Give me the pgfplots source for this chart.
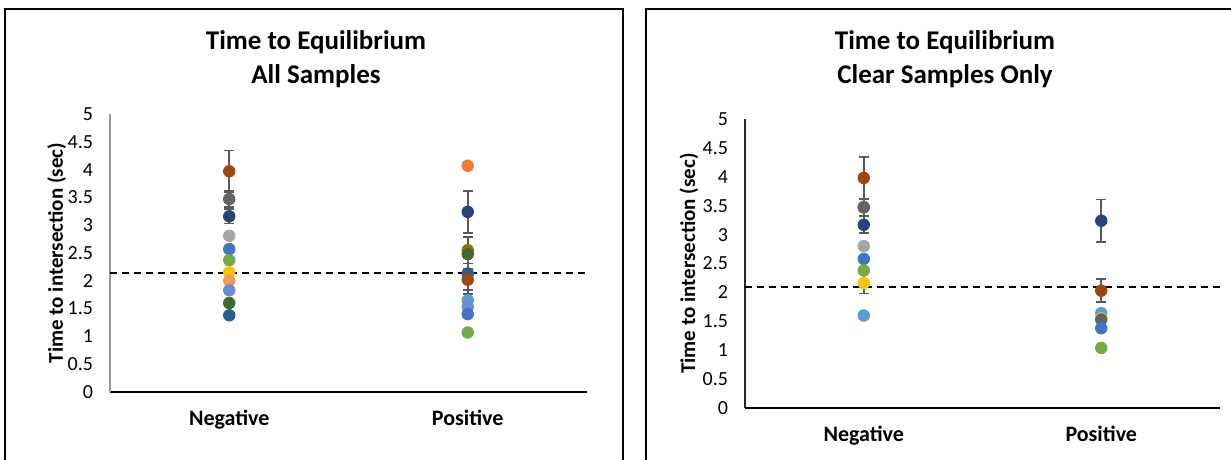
\documentclass[border=0pt]{standalone}
\usepackage{pgfplots}
\pgfplotsset{compat=1.18}
\usepackage{fontspec}
\setmainfont{Carlito}
\definecolor{cBlue}{HTML}{4472C4}
\definecolor{cOrange}{HTML}{ED7D31}
\definecolor{cGray}{HTML}{A5A5A5}
\definecolor{cYellow}{HTML}{FFC000}
\definecolor{cLtBlue}{HTML}{5B9BD5}
\definecolor{cGreen}{HTML}{70AD47}
\definecolor{cNavy}{HTML}{264478}
\definecolor{cBrown}{HTML}{9E480E}
\definecolor{cDkGray}{HTML}{636363}
\definecolor{cOlive}{HTML}{997300}
\definecolor{cSteel}{HTML}{255E91}
\definecolor{cDkGreen}{HTML}{43682B}
\definecolor{cMidBlue}{HTML}{698ED0}
\definecolor{cLtOrange}{HTML}{F1975A}
\definecolor{errgray}{HTML}{595959}
\newcommand{\pt}[4]{\addplot[only marks, mark=*, mark size=2.9pt,
  mark options={fill=#1, draw=#1},
  error bars/.cd, y dir=both, y explicit,
  error bar style={draw=errgray, line width=0.8pt},
  error mark options={rotate=90, mark size=2.4pt, draw=errgray, line width=0.8pt}]
  coordinates {(#2,#3) +- (0,#4)};}
\pgfplotsset{
  eqstyle/.style={
    scale only axis,
    xmin=-0.5, xmax=1.5, ymin=0, ymax=5,
    xtick={0,1}, xticklabels={Negative,Positive},
    ytick={0,0.5,...,5},
    major tick length=0pt,
    axis x line*=bottom, axis y line*=left,
    x axis line style={-, draw=black, line width=0.6pt},
    y axis line style={-, draw=gray!80, line width=0.6pt},
    /pgf/number format/assume math mode=true,
    yticklabel style={font=\fontsize{10}{12}\selectfont, xshift=-5pt},
    xticklabel style={font=\fontsize{11}{13}\selectfont\bfseries, yshift=-5.5pt},
    ylabel={Time to intersection (sec)},
    clip=false,
  }
}
\begin{document}
\begin{tikzpicture}
\useasboundingbox (0,0) rectangle (615.5pt,230pt);
% frames
\draw[line width=1pt] (2.5pt,-10pt) -- (2.5pt,225.5pt) -- (311.5pt,225.5pt) -- (311.5pt,-10pt);
\draw[line width=1pt] (323pt,-10pt) -- (323pt,225.5pt) -- (625pt,225.5pt);
% titles
\node[font=\fontsize{13.5}{15}\selectfont\bfseries] at (158pt,209pt) {Time to Equilibrium};
\node[font=\fontsize{13.5}{15}\selectfont\bfseries] at (158pt,192pt) {All Samples};
\node[font=\fontsize{13.5}{15}\selectfont\bfseries] at (472.5pt,209pt) {Time to Equilibrium};
\node[font=\fontsize{13.5}{15}\selectfont\bfseries] at (472.5pt,192pt) {Clear Samples Only};

\begin{axis}[eqstyle, at={(55pt,34pt)}, anchor=south west,
  width=238.5pt, height=139pt,
  every axis y label/.style={at={(axis description cs:-0.112,0.5)}, rotate=90, anchor=center, font=\fontsize{10.5}{12}\selectfont\bfseries}]
\addplot[black, line width=1pt, dash pattern=on 3.5pt off 2.5pt] coordinates {(-0.5,2.14) (1.5,2.14)};
% Negative
\pt{cBrown}{0}{3.97}{0.37}
\pt{cDkGray}{0}{3.47}{0.14}
\pt{cNavy}{0}{3.16}{0.13}
\pt{cGray}{0}{2.81}{0.05}
\pt{cBlue}{0}{2.57}{0.03}
\pt{cGreen}{0}{2.37}{0.03}
\pt{cYellow}{0}{2.15}{0.03}
\pt{cLtOrange}{0}{2.00}{0.03}
\pt{cMidBlue}{0}{1.83}{0.03}
\pt{cDkGreen}{0}{1.60}{0.03}
\pt{cSteel}{0}{1.38}{0.03}
% Positive
\pt{cOrange}{1}{4.07}{0.0}
\pt{cNavy}{1}{3.24}{0.38}
\pt{cSteel}{1}{2.13}{0.37}
\pt{cOlive}{1}{2.55}{0.24}
\pt{cDkGreen}{1}{2.48}{0.05}
\pt{cBrown}{1}{2.02}{0.19}
\pt{cLtBlue}{1}{1.65}{0.03}
\pt{cMidBlue}{1}{1.53}{0.03}
\pt{cBlue}{1}{1.40}{0.03}
\pt{cGreen}{1}{1.07}{0.0}
\end{axis}

\begin{axis}[eqstyle, at={(372.5pt,26pt)}, anchor=south west,
  width=237.5pt, height=144.5pt,
  y axis line style={-, draw=black!85, line width=0.6pt},
  every axis y label/.style={at={(axis description cs:-0.118,0.5)}, rotate=90, anchor=center, font=\fontsize{10.5}{12}\selectfont\bfseries}]
\addplot[black, line width=1pt, dash pattern=on 3.5pt off 2.5pt] coordinates {(-0.5,2.09) (1.5,2.09)};
% Negative
\pt{cBrown}{0}{3.98}{0.36}
\pt{cOrange}{0}{3.48}{0.03}
\pt{cDkGray}{0}{3.47}{0.14}
\pt{cNavy}{0}{3.17}{0.14}
\pt{cGray}{0}{2.80}{0.05}
\pt{cBlue}{0}{2.58}{0.03}
\pt{cGreen}{0}{2.38}{0.03}
\pt{cYellow}{0}{2.16}{0.18}
\pt{cLtBlue}{0}{1.60}{0.0}
% Positive
\pt{cNavy}{1}{3.24}{0.37}
\pt{cBrown}{1}{2.03}{0.20}
\pt{cLtBlue}{1}{1.64}{0.03}
\pt{cYellow}{1}{1.55}{0.03}
\pt{cDkGray}{1}{1.53}{0.03}
\pt{cBlue}{1}{1.38}{0.03}
\pt{cGreen}{1}{1.04}{0.0}
\end{axis}
\end{tikzpicture}
\end{document}
